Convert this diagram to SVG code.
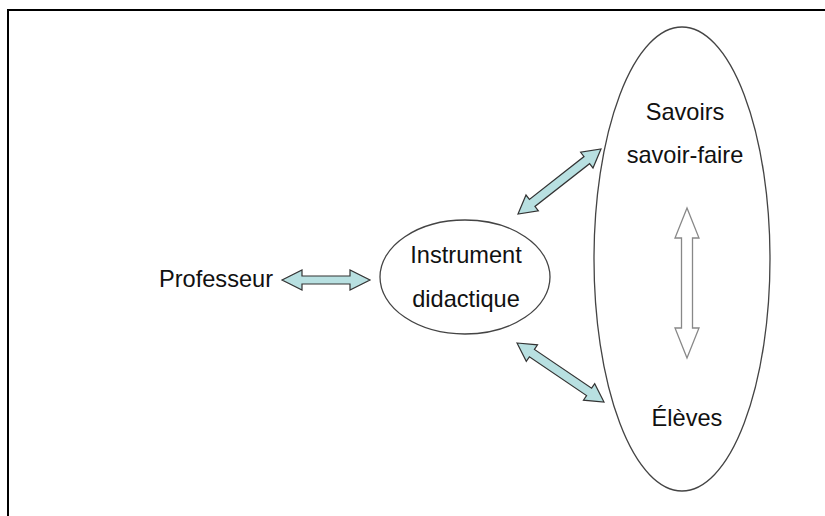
<svg xmlns="http://www.w3.org/2000/svg" width="825" height="516" viewBox="0 0 825 516">
<style>
.t{font-family:"Liberation Sans",Arial,sans-serif;font-size:23.6px;fill:#111;}
.ell{fill:none;stroke:#444;stroke-width:1.3;}
.dbl{fill:#b8e0e1;stroke:#333;stroke-width:1.2;stroke-linejoin:miter;}
.hol{fill:#fff;stroke:#888;stroke-width:1.3;}
</style>
<rect width="825" height="516" fill="#fff"/>
<g id="frame"><path d="M8,516 L8,10 L825,10" fill="none" stroke="#000" stroke-width="2"/></g>
<g id="professeur"><text class="t" x="216" y="287" text-anchor="middle">Professeur</text></g>
<g id="instrument">
<ellipse class="ell" cx="465" cy="277" rx="85" ry="57"/>
<text class="t" x="466" y="263" text-anchor="middle">Instrument</text>
<text class="t" x="466" y="307" text-anchor="middle">didactique</text>
</g>
<g id="savoirs-eleves">
<ellipse class="ell" cx="682" cy="259" rx="88" ry="232"/>
<text class="t" x="685" y="120" text-anchor="middle">Savoirs</text>
<text class="t" x="685" y="163" text-anchor="middle">savoir-faire</text>
<text class="t" x="687" y="426" text-anchor="middle">Élèves</text>
</g>
<g id="connectors">
<path class="dbl" d="M282,280 L302,270 L302,276 L350,276 L350,270 L370,280 L350,290 L350,284 L302,284 L302,290 Z"/>
<path class="dbl" transform="translate(518,214) rotate(-38.06)" d="M0,0 L18,-10 L18,-4.5 L87.4,-4.5 L87.4,-10 L105.4,0 L87.4,10 L87.4,4.5 L18,4.5 L18,10 Z"/>
<path class="dbl" transform="translate(517,343) rotate(34.14)" d="M0,0 L18,-10 L18,-4.5 L87.1,-4.5 L87.1,-10 L105.1,0 L87.1,10 L87.1,4.5 L18,4.5 L18,10 Z"/>
<path class="hol" d="M687,208 L699,238 L692.5,238 L692.5,328 L699,328 L687,358 L675,328 L681.5,328 L681.5,238 L675,238 Z"/>
</g>
</svg>
